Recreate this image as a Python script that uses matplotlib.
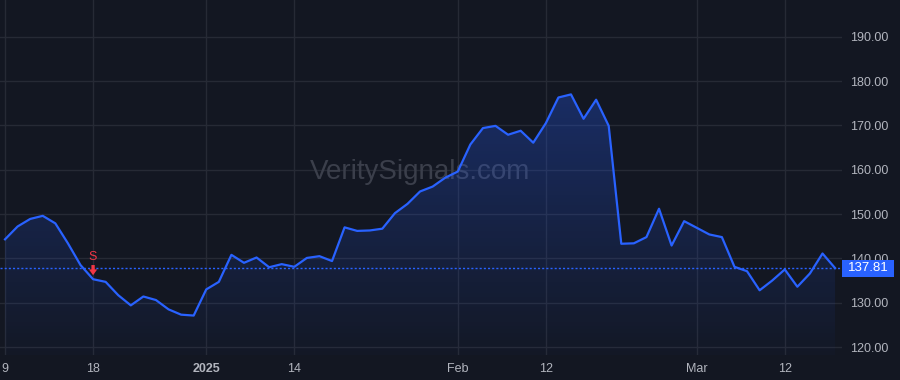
import matplotlib
matplotlib.use("Agg")
import matplotlib.pyplot as plt
import numpy as np
from matplotlib.patches import Polygon, FancyBboxPatch
from matplotlib.colors import LinearSegmentedColormap
from matplotlib.transforms import blended_transform_factory

# ---- data (trading days, Dec 9 2024 .. Mar 18 2025) ----
prices = [144.3, 147.2, 148.9, 149.6, 147.9, 143.4, 138.5, 135.3, 134.7, 131.7,
          129.4, 131.4, 130.6, 128.5, 127.3, 127.1, 133.0, 134.7, 140.8, 139.0,
          140.2, 138.0, 138.7, 138.1, 140.1, 140.5, 139.4, 147.0, 146.2, 146.3,
          146.7, 150.2, 152.3, 155.1, 156.2, 158.2, 159.6, 165.7, 169.4, 169.9,
          167.9, 168.8, 166.1, 170.5, 176.3, 177.0, 171.5, 175.8, 169.9, 143.3,
          143.4, 144.8, 151.2, 142.9, 148.4, 146.9, 145.4, 144.8, 138.1, 137.1,
          132.8, 135.0, 137.5, 133.6, 136.6, 141.1, 137.81]
tick_idx = [0, 7, 16, 23, 36, 43, 55, 62]
tick_labels = ["9", "18", "2025", "14", "Feb", "12", "Mar", "12"]
ytick_vals = [120, 130, 140, 150, 160, 170, 180, 190]
last_price = 137.81
signal_idx = 7
signal_label = "S"
watermark = "VeritySignals.com"

BG = "#131722"
GRID = "#262a35"
LINE = "#2962ff"
TXT = "#b2b5be"
RED = "#f23645"
FONT = "Liberation Sans"

x = np.arange(len(prices))
y = np.array(prices)

fig = plt.figure(figsize=(9, 3.8), dpi=100, facecolor=BG)
ax = fig.add_axes([0, 25/380, 842/900, 355/380])
ax.set_facecolor(BG)
ymin, ymax = 118.2, 198.3
ax.set_xlim(-0.4, 66.55)
ax.set_ylim(ymin, ymax)

# grid
for v in ytick_vals:
    ax.axhline(v, color=GRID, lw=1, zorder=0)
for t in tick_idx:
    ax.axvline(t, color=GRID, lw=1, zorder=0)

# gradient fill
grad = np.linspace(0, 1, 256).reshape(-1, 1)
cmap = LinearSegmentedColormap.from_list(
    "g", [(0.0, (0.16, 0.38, 1.0, 0.02)), (1.0, (0.16, 0.38, 1.0, 0.30))])
im = ax.imshow(grad, cmap=cmap, aspect="auto", origin="lower",
               extent=[x[0], x[-1], ymin, y.max()], zorder=1)
verts = np.vstack([[x[0], ymin], np.column_stack([x, y]), [x[-1], ymin]])
poly = Polygon(verts, closed=True, facecolor="none", edgecolor="none")
ax.add_patch(poly)
im.set_clip_path(poly)

ax.plot(x, y, color=LINE, lw=1.6, zorder=3, solid_joinstyle="round")

# last price line
ax.axhline(last_price, color=LINE, lw=1, ls=(0, (1.5, 1.5)), zorder=2)

# watermark
ax.text(0.499, 0.515, watermark, transform=ax.transAxes, ha="center", va="center",
        fontsize=20, color="#3b3f4b", family=FONT, zorder=0.5)

# signal marker
ax.text(signal_idx, 140.4, signal_label, color=RED, ha="center", va="center",
        fontsize=9, family=FONT, zorder=4)
ax.annotate("", xy=(signal_idx, 136.2), xytext=(signal_idx, 138.5),
            arrowprops=dict(arrowstyle="simple,head_width=0.5,head_length=0.35,tail_width=0.2",
                            mutation_scale=12, color=RED, lw=0, shrinkA=0, shrinkB=0),
            zorder=4)

# axes styling
for s in ax.spines.values():
    s.set_visible(False)
ax.set_xticks(tick_idx)
ax.set_xticklabels(tick_labels)
ax.tick_params(axis="x", length=0, colors=TXT, labelsize=9, pad=6)
for lbl in ax.get_xticklabels():
    lbl.set_family(FONT)
    if lbl.get_text() == "2025":
        lbl.set_fontweight("bold")
ax.yaxis.tick_right()
ax.set_yticks(ytick_vals)
ax.set_yticklabels([f"{v:.2f}" for v in ytick_vals])
ax.tick_params(axis="y", length=0, colors=TXT, labelsize=9, pad=6)
for lbl in ax.get_yticklabels():
    lbl.set_family(FONT)

# price label box
bt = blended_transform_factory(ax.transAxes, ax.transData)
pix = (ymax - ymin) / 355.0  # data units per pixel
rect = FancyBboxPatch((1.0, last_price - 8.5 * pix), 52/842, 17 * pix, transform=bt,
                      boxstyle="square,pad=0",
                      facecolor=LINE, edgecolor="none", clip_on=False, zorder=5)
ax.add_patch(rect)
ax.text(1.0 + 26/842, last_price, f"{last_price:.2f}", transform=bt,
        ha="center", va="center", color="white", fontsize=9.5, family=FONT,
        zorder=6, clip_on=False)

fig.savefig("out.png", dpi=100, facecolor=BG)
